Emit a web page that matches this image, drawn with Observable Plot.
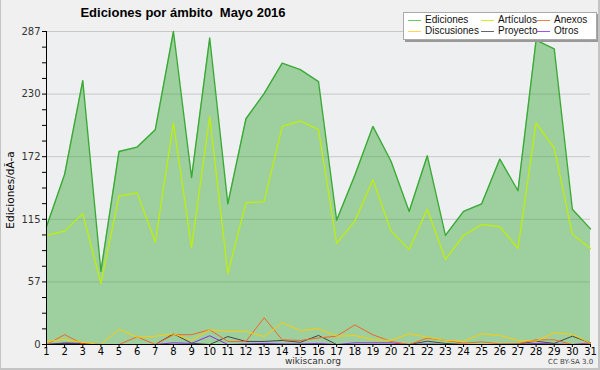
<!DOCTYPE html>
<html><head><meta charset="utf-8">
<script src="https://cdn.jsdelivr.net/npm/d3@7"></script>
<script src="https://cdn.jsdelivr.net/npm/@observablehq/plot@0.6"></script>
<style>
html,body{margin:0;padding:0;background:#f0f0f0;}
#wrap{position:relative;width:600px;height:370px;overflow:hidden;font-family:"DejaVu Sans",sans-serif;}
#wrap svg{position:absolute;left:0;top:0;}
.t{position:absolute;white-space:pre;color:#000;}
#title{left:0;width:366px;top:5px;text-align:center;font:bold 13px "Liberation Sans",sans-serif;}
#ylab{left:10px;top:190px;font-size:10.5px;transform:translate(-50%,-50%) rotate(-90deg);}
#site{left:313px;top:356px;transform:translateX(-50%);font-size:9px;color:#333;}
#cc{left:548px;top:358px;font-size:7px;color:#444;}
#legend{position:absolute;left:403px;top:12px;width:192px;height:26px;background:#fff;border:1px solid #aaa;box-shadow:2px 2px 0 #999;font:10px "Liberation Sans",sans-serif;}
.li{position:absolute;height:10px;line-height:10px;color:#111;white-space:nowrap;}
.li span{display:inline-block;width:13px;height:0;border-top:1px solid;vertical-align:middle;margin-right:4px;}
.bd{position:absolute;background:#c4c4c4;}
</style></head><body><div id="wrap"></div>
<script>
const days = [1,2,3,4,5,6,7,8,9,10,11,12,13,14,15,16,17,18,19,20,21,22,23,24,25,26,27,28,29,30,31];
const ediciones   = [108,156,242,67,177,181,197,287,153,281,129,207,230,258,252,241,114,155,200,168,122,173,100,122,129,170,141,279,271,124,106];
const articulos   = [100,104,120,56,136,139,94,203,89,209,65,130,131,200,205,197,93,113,151,104,87,124,78,100,110,108,88,203,180,101,88];
const anexos      = [0,9,0.5,0,0,7,0,9,9,13.5,2.8,2.8,24.5,4.3,3.7,6,7.6,18,8.9,2.8,0,5.8,3.7,1.2,2.4,0.6,0.6,4.3,4.3,0,0.6];
const discusiones = [2.8,4.6,2,0,13.8,6.7,7.6,9.8,3.7,13.5,12,12,7.3,20,12.8,14.4,7.6,8.3,4.3,3.7,9.8,6.7,3.7,3,9.8,8.3,3.7,3,10.7,9.2,1.2];
const proyecto    = [0,1,0.5,0,0,0,0,9.8,1.2,0,7.3,2.8,2.8,3.7,2,8.3,0,0,0,0,0,3,1,0,0,0,0.5,3,1,7.6,1.5];
const otros       = [0,1.5,1,0,0,0,0,1.5,1,8,0,0.5,1,0.5,0.5,1,0,1.5,1.5,1.5,0,0.5,0,0,0,0,0,1,0.5,0,1.5];
const seriesNames = ["Ediciones","Artículos","Anexos","Discusiones","Proyecto","Otros"];
const seriesColors = ["#3aaa35","#c0f000","#f26522","#ffcc00","#444444","#8a2be2"];
const legendColors = ["#66cc66","#ccf030","#f5824a","#ffd94d","#666666","#9a55ee"];
const yTickLabels = ["0","57","115","172","230","287"];
const yMax = 287;
const title = "Ediciones por ámbito  Mayo 2016";
const yLabel = "Ediciones/dÃ-a";

const table = (vals) => days.map((d,i)=>({day:d, value:vals[i]}));
const yTicks = d3.range(21).map(i => i*yMax/20);
const fmtY = (v) => { const i = Math.round(v/yMax*20); return i%4===0 ? yTickLabels[i/4] : ""; };

const lineOrder = [[otros,5],[proyecto,4],[anexos,2],[discusiones,3]];

const chart = Plot.plot({
  width:600, height:370,
  marginLeft:46, marginRight:10, marginTop:31, marginBottom:26,
  style:{background:"transparent", fontFamily:"DejaVu Sans, sans-serif", fontSize:"10px", color:"#000"},
  x:{domain:[1,31]},
  y:{domain:[0,yMax]},
  marks:[
    Plot.frame({fill:"#eeeff1", stroke:"none"}),
    Plot.gridY(yTicks.filter((v,i)=>i%4===0 && i>0), {stroke:"#c8c8c8", strokeOpacity:1}),
    Plot.areaY(table(ediciones), {x:"day", y:"value", fill:"rgb(60,170,60)", fillOpacity:0.45}),
    ...lineOrder.map(([v,c]) => Plot.lineY(table(v), {x:"day", y:"value", stroke:seriesColors[c], strokeWidth:1})),
    Plot.lineY(table(articulos), {x:"day", y:"value", stroke:seriesColors[1], strokeWidth:1.2}),
    Plot.lineY(table(ediciones), {x:"day", y:"value", stroke:seriesColors[0], strokeWidth:1.4}),
    Plot.axisY(yTicks, {tickSize:4, tickPadding:2, tickFormat:fmtY, label:null, stroke:"#000", fill:"#333"}),
    Plot.axisX(days, {tickSize:3, tickPadding:0, tickFormat:d=>String(d), label:null, stroke:"#000", fill:"#000"}),
    Plot.ruleY([0], {stroke:"#000"}),
    Plot.ruleX([1], {stroke:"#000"})
  ]
});
const wrap = document.getElementById("wrap");
wrap.appendChild(chart);

function addDiv(id, cls, text){const d=document.createElement("div"); if(id) d.id=id; d.className=cls; d.textContent=text; wrap.appendChild(d); return d;}
addDiv("title","t",title);
addDiv("ylab","t",yLabel);
addDiv("site","t","wikiscan.org");
addDiv("cc","t","CC BY-SA 3.0");

const legend = document.createElement("div"); legend.id="legend"; wrap.appendChild(legend);
const pos = [[4,2],[77,2],[133,2],[4,13],[77,13],[133,13]];
seriesNames.forEach((name,k)=>{
  const li=document.createElement("div"); li.className="li";
  li.style.left=pos[k][0]+"px"; li.style.top=pos[k][1]+"px";
  const sw=document.createElement("span"); sw.style.borderTopColor=legendColors[k];
  li.appendChild(sw); li.appendChild(document.createTextNode(name));
  legend.appendChild(li);
});
// outer border
[[0,0,1,370],[598,0,2,370],[0,368,600,2]].forEach(([l,t,w,h])=>{const b=document.createElement("div");b.className="bd";b.style.left=l+"px";b.style.top=t+"px";b.style.width=w+"px";b.style.height=h+"px";wrap.appendChild(b);});
</script></body></html>
